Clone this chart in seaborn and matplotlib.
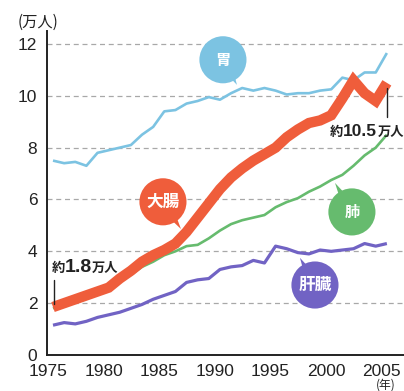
import matplotlib
matplotlib.use("Agg")
import matplotlib.pyplot as plt
import matplotlib.transforms as mtrans
import seaborn as sns
import pandas as pd
import numpy as np

years = list(range(1975, 2006))
stomach = [7.5, 7.4, 7.45, 7.3, 7.8, 7.9, 8.0, 8.1, 8.5, 8.8, 9.4, 9.45, 9.7, 9.8, 9.95,
           9.85, 10.1, 10.3, 10.2, 10.3, 10.2, 10.05, 10.1, 10.1, 10.2, 10.25, 10.7, 10.6,
           10.9, 10.9, 11.65]
colon = [1.85, 2.0, 2.15, 2.3, 2.45, 2.6, 2.95, 3.25, 3.6, 3.85, 4.05, 4.3, 4.75, 5.3, 5.85,
         6.4, 6.85, 7.2, 7.5, 7.75, 8.0, 8.4, 8.7, 8.95, 9.05, 9.25, 9.9, 10.6, 10.1, 9.8, 10.5]
lung = [1.8, 1.95, 2.1, 2.25, 2.4, 2.55, 2.85, 3.1, 3.4, 3.6, 3.85, 4.0, 4.2, 4.25, 4.5,
        4.8, 5.05, 5.2, 5.3, 5.4, 5.7, 5.9, 6.05, 6.3, 6.5, 6.75, 6.95, 7.3, 7.7, 8.0, 8.5]
liver = [1.15, 1.25, 1.2, 1.3, 1.45, 1.55, 1.65, 1.8, 1.95, 2.15, 2.3, 2.45, 2.8, 2.9, 2.95,
         3.3, 3.4, 3.45, 3.65, 3.55, 4.2, 4.1, 3.95, 3.9, 4.05, 4.0, 4.05, 4.1, 4.3, 4.2, 4.3]

series_names = ["胃", "大腸", "肺", "肝臓"]
series_values = [stomach, colon, lung, liver]
colors = ["#7cc3e2", "#ef5d3b", "#66bb6e", "#7163c4"]
widths = [1.9, 7.5, 1.9, 2.3]
xticks = [1975, 1980, 1985, 1990, 1995, 2000, 2005]
yticks = [0, 2, 4, 6, 8, 10, 12]

# bubble label positions (center, tail tip) in data units
bubble_centers = [(1990.27, 11.39), (1984.88, 5.91), (2001.86, 5.52), (1998.54, 2.70)]
bubble_tips = [(1991.53, 10.42), (1986.5, 4.86), (2000.34, 6.64), (1997.19, 3.75)]

CJK = ["Noto Sans CJK JP", "DejaVu Sans"]
NUM = ["Liberation Sans", "DejaVu Sans"]

sns.set_theme(style="white")
plt.rcParams["font.family"] = CJK

fig = plt.figure(figsize=(4.04, 3.91), dpi=100)
W, H = 404, 391
ax = fig.add_axes([47 / W, (H - 355) / H, (W - 47) / W, (355 - 31) / H])

df = pd.DataFrame({
    "year": years * 4,
    "value": sum(series_values, []),
    "series": sum([[n] * len(years) for n in series_names], []),
})

order = [0, 2, 3, 1]  # draw colon on top
for i in order:
    sub = df[df["series"] == series_names[i]]
    sns.lineplot(data=sub, x="year", y="value", ax=ax, color=colors[i],
                 linewidth=widths[i], zorder=3 + (i == 1), solid_capstyle="butt",
                 solid_joinstyle="miter" if i == 1 else "round")

ax.set_xlim(1974.46, 2006.54)
ax.set_ylim(0, 12.5)
ax.set_xlabel("")
ax.set_ylabel("")
ax.set_xticks(xticks)
ax.set_xticklabels([])
ax.set_yticks(yticks)
ax.set_yticklabels([str(t) for t in yticks], family=NUM, fontsize=12.5, color="#222222")
ax.tick_params(axis="both", length=0)
ax.tick_params(axis="y", pad=7)

# x tick labels, drawn slightly left of the tick positions as in the reference
xtrans = mtrans.blended_transform_factory(ax.transData, ax.transAxes) + \
    mtrans.ScaledTranslation(-5 / 100, -8.5 / 100, fig.dpi_scale_trans)
for t in xticks:
    ax.text(t, 0, str(t), transform=xtrans, ha="center", va="top", family=NUM,
            fontsize=12.5, color="#222222", clip_on=False)

for y in yticks[1:]:
    ax.axhline(y, color="#a8a8a8", linewidth=0.9, linestyle=(0, (4, 3)), zorder=1)

for side in ["top", "right"]:
    ax.spines[side].set_visible(False)
for side in ["left", "bottom"]:
    ax.spines[side].set_color("#222222")
    ax.spines[side].set_linewidth(1.4)

# bubbles
for name, c, (cx, cy), (tx, ty) in zip(series_names, colors, bubble_centers, bubble_tips):
    ax.annotate("", xy=(tx, ty), xytext=(cx, cy),
                arrowprops=dict(arrowstyle="wedge,tail_width=0.9,shrink_factor=0.5",
                                fc=c, ec="none", shrinkA=0, shrinkB=0), zorder=6)
    ax.scatter([cx], [cy], s=1150, color=c, edgecolor="none", zorder=7)
    ax.text(cx, cy, name, color="white", fontsize=12 if len(name) > 1 else 11,
            fontweight="bold", ha="center", va="center", zorder=8, family=CJK)

# value callouts
def callout(x_line, y0, y1, x_text, y_text, num, fs_num):
    ax.plot([x_line, x_line], [y0, y1], color="#222222", linewidth=1.0, zorder=5)
    t1 = ax.text(x_text, y_text, "約", fontsize=9.5, fontweight="bold", color="#222222",
                 ha="left", va="baseline", family=CJK, zorder=9)
    t2 = ax.annotate(num, xy=(1, y_text), xycoords=(t1, "data"), fontsize=fs_num,
                     fontweight="bold", color="#222222", ha="left", va="baseline",
                     family=NUM, zorder=9)
    ax.annotate("万人", xy=(1, y_text), xycoords=(t2, "data"), fontsize=9.5,
                fontweight="bold", color="#222222", ha="left", va="baseline",
                family=CJK, zorder=9, annotation_clip=False)

callout(1975.1, 1.95, 2.9, 1974.85, 3.2, "1.8", 14)
callout(2005.0, 9.2, 10.3, 1999.9, 8.45, "10.5", 12.5)

fig.text(18 / W, 1 - 22 / H, "(万人)", fontsize=11, color="#222222", va="center", ha="left",
         family=CJK)
fig.text(376 / W, 1 - 385 / H, "(年)", fontsize=8.5, color="#222222", va="center", ha="left",
         family=CJK)

fig.savefig("out.png", dpi=100)
